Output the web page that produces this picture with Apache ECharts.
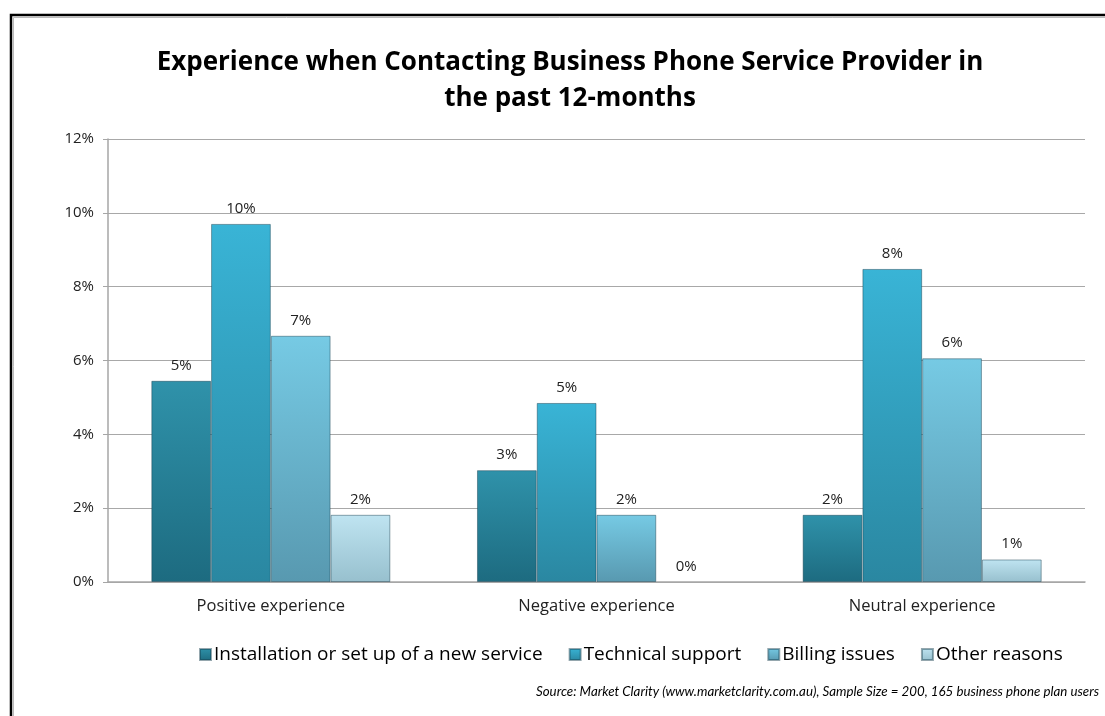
<!DOCTYPE html>
<html>
<head>
<meta charset="utf-8">
<script src="https://cdn.jsdelivr.net/npm/echarts@6/dist/echarts.min.js"></script>
<style>
  html, body { margin: 0; padding: 0; background: #fff; }
  #chart { width: 1105px; height: 716px; }
</style>
</head>
<body>
<div id="chart"></div>
<script>
// Share of respondents (%) by contact reason and experience
const categories = ['Positive experience', 'Negative experience', 'Neutral experience'];
const installation = [5.45, 3.03, 1.82];
const technical = [9.70, 4.85, 8.48];
const billing = [6.67, 1.82, 6.06];
const other = [1.82, 0, 0.61];
const seriesNames = ['Installation or set up of a new service', 'Technical support', 'Billing issues', 'Other reasons'];
const yTicks = [0, 2, 4, 6, 8, 10, 12];

const FONT = '"Open Sans", Lato, sans-serif';

// top/bottom gradient colours for each series
const palettes = [
  ['#2f92aa', '#1d6b80'],
  ['#39b4d6', '#2a87a1'],
  ['#76cae4', '#5899b0'],
  ['#bfe4f1', '#97c0ce']
];

function grad(c) {
  return new echarts.graphic.LinearGradient(0, 0, 0, 1, [
    { offset: 0, color: c[0] },
    { offset: 1, color: c[1] }
  ]);
}

const seriesData = [installation, technical, billing, other];

const chart = echarts.init(document.getElementById('chart'), null, { renderer: 'canvas' });

chart.setOption({
  backgroundColor: '#fff',
  animation: false,
  title: {
    text: 'Experience when Contacting Business Phone Service Provider in\nthe past 12-months',
    left: 565,
    textAlign: 'center',
    top: 40,
    textStyle: { fontFamily: FONT, fontWeight: 'bold', fontSize: 26, color: '#000', lineHeight: 36 }
  },
  legend: {
    left: 194,
    top: 640,
    itemWidth: 11,
    itemHeight: 11,
    itemGap: 26,
    icon: 'rect',
    textStyle: { fontFamily: FONT, fontSize: 19, color: '#000', padding: [0, 0, 0, -2] },
    data: seriesNames
  },
  grid: { left: 108, right: 20, top: 139, bottom: 134, containLabel: false },
  xAxis: {
    type: 'category',
    data: categories,
    axisLine: { lineStyle: { color: '#a6a6a6', width: 1.5 } },
    axisTick: { show: false },
    axisLabel: { fontFamily: FONT, fontSize: 16.5, color: '#222', margin: 16 }
  },
  yAxis: {
    type: 'value',
    min: yTicks[0],
    max: yTicks[yTicks.length - 1],
    interval: 2,
    axisLine: { show: true, lineStyle: { color: '#a6a6a6', width: 1.5 } },
    axisTick: { show: true, length: 5, lineStyle: { color: '#a6a6a6' } },
    axisLabel: { fontFamily: FONT, fontSize: 15, color: '#222', margin: 14, formatter: v => v + '%' },
    splitLine: { lineStyle: { color: '#a8a8a8', width: 1.2 } }
  },
  series: seriesNames.map((name, i) => ({
    name: name,
    type: 'bar',
    data: seriesData[i].map(v => v === 0 ? { value: v, itemStyle: { borderWidth: 0 } } : v),
    barGap: '0%',
    barCategoryGap: '26.6%',
    itemStyle: {
      color: grad(palettes[i]),
      borderColor: 'rgba(20,60,75,0.45)',
      borderWidth: 1
    },
    label: {
      show: true,
      position: 'top',
      distance: 8,
      fontFamily: FONT,
      fontSize: 15,
      color: '#222',
      formatter: p => Math.round(p.value) + '%'
    }
  })),
  graphic: [
    {
      type: 'polyline',
      shape: { points: [[11, 716], [11, 15], [1105, 15]] },
      style: { stroke: '#000', lineWidth: 2.5, fill: null },
      silent: true
    },
    {
      type: 'polyline',
      shape: { points: [[13.5, 716], [13.5, 17.5], [1105, 17.5]] },
      style: { stroke: '#bbb', lineWidth: 1, fill: null },
      silent: true
    },
    {
      type: 'text',
      right: 6,
      top: 685,
      style: {
        text: 'Source: Market Clarity (www.marketclarity.com.au), Sample Size = 200, 165 business phone plan users',
        fontFamily: 'Lato, sans-serif',
        fontStyle: 'italic',
        fontSize: 13.3,
        fill: '#000'
      }
    }
  ]
});
</script>
</body>
</html>
